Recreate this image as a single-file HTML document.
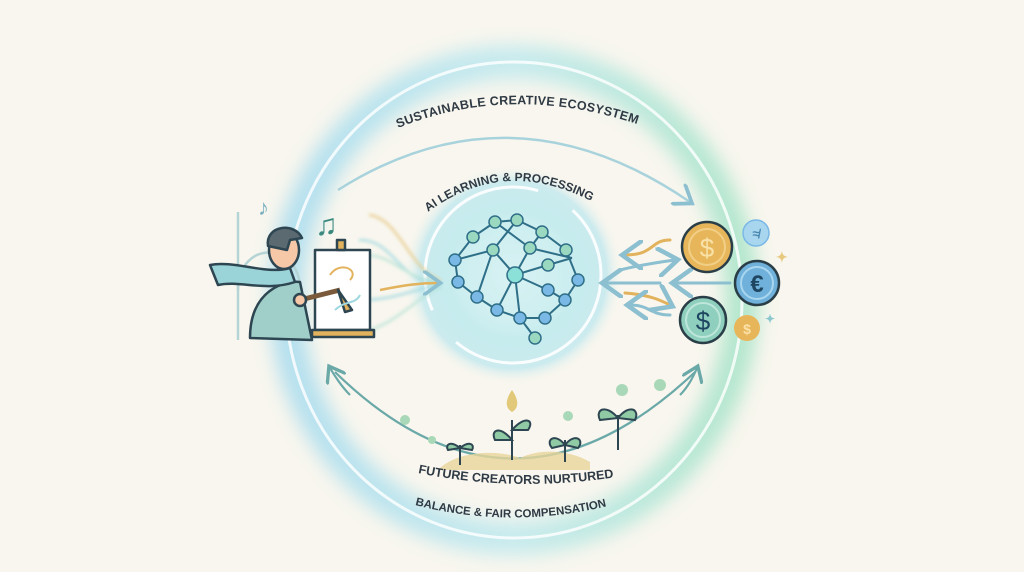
<!DOCTYPE html>
<html><head><meta charset="utf-8"><style>
html,body{margin:0;padding:0;background:#f8f6ee;}
svg{display:block}
text{font-family:"Liberation Sans",sans-serif;font-weight:bold;fill:#2f3a44;}
</style></head><body>
<svg width="1024" height="572" viewBox="0 0 1024 572">
<defs>
<radialGradient id="glow" cx="50%" cy="50%" r="50%">
<stop offset="0" stop-color="#e8f6f6"/><stop offset="0.6" stop-color="#c6ecee"/><stop offset="0.85" stop-color="#b9e6ef" stop-opacity="0.7"/><stop offset="1" stop-color="#f8f6ee" stop-opacity="0"/>
</radialGradient>
<linearGradient id="ring" x1="0" y1="0" x2="1" y2="0">
<stop offset="0" stop-color="#a8dcef"/><stop offset="0.5" stop-color="#bfe9ee"/><stop offset="1" stop-color="#a8e4c8"/>
</linearGradient>
<filter id="blur"><feGaussianBlur stdDeviation="9"/></filter>
<filter id="blur2"><feGaussianBlur stdDeviation="1.5"/></filter>
<marker id="ah" markerWidth="10" markerHeight="10" refX="6" refY="5" orient="auto"><path d="M0,0 L7,5 L0,10" fill="none" stroke="#8cbfd0" stroke-width="1.5"/></marker>
<marker id="ag" markerWidth="10" markerHeight="10" refX="6" refY="5" orient="auto"><path d="M0,0 L7,5 L0,10" fill="none" stroke="#6aa9a8" stroke-width="1.5"/></marker>
<path id="topArc" d="M398,128 Q512,82 640,125"/>
<path id="aiArc" d="M428,212 Q512,150 610,212"/>
<path id="futArc" d="M418,473 Q512,492 610,478"/>
<path id="balArc" d="M415,505 Q512,530 612,505"/>
</defs>
<ellipse cx="514" cy="300" rx="228" ry="238" fill="none" stroke="url(#ring)" stroke-width="34" filter="url(#blur)" opacity="0.85"/>
<ellipse cx="514" cy="300" rx="228" ry="238" fill="none" stroke="#ffffff" stroke-width="3" opacity="0.8"/>
<path d="M338,190 Q512,80 690,202" fill="none" stroke="#a9d3dc" stroke-width="2.5" marker-end="url(#ah)"/>
<path d="M335,372 Q512,545 695,372" fill="none" stroke="#6aa9a8" stroke-width="2.2"/>
<path d="M350,395 Q340,385 330,368" fill="none" stroke="#6aa9a8" stroke-width="2.2" marker-end="url(#ag)"/>
<path d="M680,395 Q690,385 697,368" fill="none" stroke="#6aa9a8" stroke-width="2.2" marker-end="url(#ag)"/>
<circle cx="513" cy="275" r="110" fill="url(#glow)"/>
<circle cx="513" cy="275" r="88" fill="none" stroke="#fff" stroke-width="3" stroke-dasharray="200 40" opacity="0.9"/>
<g stroke="#2f6f88" stroke-width="2" fill="none">
<path d="M455,260 L473,237 L495,222 L517,220 L542,232 L566,250 L578,280 L565,300 L545,318 L520,318 L497,310 L477,297 L458,282 Z" fill="#cdeef0" fill-opacity="0.6"/>
<path d="M455,260 L493,250 L515,275 L548,265 L572,258 M493,250 L517,220 M530,248 L515,275 L520,318 M477,297 L493,250 M497,310 L515,275 L548,290 L565,300 M542,232 L530,248 L572,258 M520,318 L535,338 M495,222 L530,248"/>
</g>
<g stroke="#2f6f88" stroke-width="1.5">
<circle cx="455" cy="260" r="6" fill="#7ab8e6"/><circle cx="473" cy="237" r="6" fill="#9ad9c0"/><circle cx="495" cy="222" r="6" fill="#9ad9c0"/>
<circle cx="517" cy="220" r="6" fill="#9ad9c0"/><circle cx="542" cy="232" r="6" fill="#9ad9c0"/><circle cx="566" cy="250" r="6" fill="#9ad9c0"/>
<circle cx="578" cy="280" r="6" fill="#7ab8e6"/><circle cx="565" cy="300" r="6" fill="#7ab8e6"/><circle cx="545" cy="318" r="6" fill="#7ab8e6"/>
<circle cx="520" cy="318" r="6" fill="#7ab8e6"/><circle cx="497" cy="310" r="6" fill="#7ab8e6"/><circle cx="477" cy="297" r="6" fill="#7ab8e6"/>
<circle cx="458" cy="282" r="6" fill="#7ab8e6"/><circle cx="493" cy="250" r="6" fill="#9ad9c0"/><circle cx="530" cy="248" r="6" fill="#9ad9c0"/>
<circle cx="548" cy="265" r="6" fill="#9ad9c0"/><circle cx="535" cy="338" r="6" fill="#9ad9c0"/><circle cx="548" cy="290" r="6" fill="#7ab8e6"/>
<circle cx="515" cy="275" r="8" fill="#8be0d8"/>
</g>
<g fill="none" stroke-width="2.5" stroke-linecap="round" filter="url(#blur2)" opacity="0.8">
<path d="M370,215 C400,220 410,270 440,280" stroke="#e7c987"/>
<path d="M360,240 C395,240 400,285 440,283" stroke="#9fd8e0"/>
<path d="M365,255 C395,255 405,280 438,281" stroke="#b7e3d6"/>
<path d="M360,300 C395,300 410,290 440,285" stroke="#9fd8e0"/>
<path d="M370,330 C400,320 420,295 440,288" stroke="#b7e3d6"/>
</g>
<path d="M380,290 C405,285 420,283 438,283" stroke="#e2b25c" stroke-width="2.5" fill="none" marker-end="url(#ah)"/>
<g stroke="#2e4652" stroke-width="2.5" stroke-linejoin="round">
<path d="M238,290 C238,240 300,240 300,290" fill="none" stroke="#b5d4d6"/>
<path d="M238,212 L238,340" fill="none" stroke="#b5d4d6"/>
<path d="M250,338 C250,290 285,280 300,282 L312,340 Z" fill="#9fcfc8"/>
<path d="M210,265 C235,260 265,275 290,268 L295,282 C265,292 240,280 218,285 Z" fill="#9ad3d8"/>
<ellipse cx="284" cy="250" rx="15" ry="19" fill="#f6c8a8"/>
<path d="M268,246 C265,225 295,222 302,238 L290,240 L287,250 Z" fill="#5b6a70"/>
<rect x="315" y="250" width="55" height="80" fill="#fff"/>
<rect x="337" y="240" width="8" height="10" fill="#e2b25c"/>
<rect x="312" y="330" width="62" height="7" fill="#e2b25c"/>
<path d="M300,300 L340,290" stroke="#7a5a3a" stroke-width="5"/>
<circle cx="300" cy="300" r="6" fill="#f6c8a8"/>
<path d="M338,290 L352,310 L345,312 Z" fill="#e2b25c"/>
</g>
<path d="M330,275 C340,260 360,270 350,280" fill="none" stroke="#e2b25c" stroke-width="2"/>
<path d="M335,310 C345,300 355,305 360,295" fill="none" stroke="#9fd8e0" stroke-width="2"/>
<text x="258" y="215" style="font-size:22px;fill:#7ab0c0">♪</text>
<text x="315" y="235" style="font-size:30px;fill:#3a8a80">♫</text>
<g fill="none" stroke-width="3" stroke-linecap="round">
<path d="M670,240 C650,240 655,255 625,255" stroke="#e2b25c" marker-end="url(#ah)"/>
<path d="M620,270 C640,265 660,262 675,260" stroke="#8cbfd0" marker-end="url(#ah)"/>
<path d="M730,283 L675,283" stroke="#8cbfd0" marker-end="url(#ah)"/>
<path d="M660,283 L605,283" stroke="#8cbfd0" marker-end="url(#ah)"/>
<path d="M625,293 C650,295 660,300 670,305" stroke="#e2b25c" marker-end="url(#ah)"/>
<path d="M670,315 C650,315 650,305 630,305" stroke="#8cbfd0" marker-end="url(#ah)"/>
</g>
<g stroke="#2a3e48" stroke-width="2.5">
<circle cx="707" cy="247" r="25" fill="#e8b65a"/><circle cx="707" cy="247" r="18" fill="none" stroke="#f2cf86" stroke-width="2"/>
<circle cx="757" cy="283" r="22" fill="#6fb1db"/><circle cx="757" cy="283" r="16" fill="none" stroke="#a9d6ee" stroke-width="2"/>
<circle cx="703" cy="320" r="23" fill="#8fcfbd"/><circle cx="703" cy="320" r="17" fill="none" stroke="#bfe6da" stroke-width="2"/>
<circle cx="756" cy="233" r="13" fill="#a8d6ee" stroke="#7ab8e6" stroke-width="1.5"/>
<circle cx="747" cy="328" r="13" fill="#e8b65a" stroke="none"/>
</g>
<text x="707" y="257" text-anchor="middle" style="font-size:26px;fill:#f8e2a8;font-weight:normal">$</text>
<text x="757" y="292" text-anchor="middle" style="font-size:24px;fill:#1f4660">€</text>
<text x="703" y="330" text-anchor="middle" style="font-size:26px;fill:#1f4660;font-weight:normal">$</text>
<text x="747" y="334" text-anchor="middle" style="font-size:14px;fill:#fbe2a8">$</text>
<text x="756" y="238" text-anchor="middle" style="font-size:13px;fill:#4a88b0">≉</text>
<text x="776" y="262" style="font-size:14px;fill:#e8c980">✦</text>
<text x="765" y="323" style="font-size:12px;fill:#8cc7d0">✦</text>
<path d="M440,468 C460,450 500,450 520,458 C540,448 570,450 590,462 L590,470 L440,470 Z" fill="#e8d49a" opacity="0.8"/>
<g stroke="#2e4652" stroke-width="2" fill="#8fcaa5">
<path d="M460,465 L460,445"/><path d="M460,448 C450,440 445,445 448,450 Z M460,448 C470,440 475,445 472,450 Z"/>
<path d="M512,460 L512,420"/><path d="M512,440 C500,425 490,430 495,440 Z M512,430 C525,415 535,420 528,430 Z"/>
<path d="M565,462 L565,440"/><path d="M565,445 C555,432 545,440 552,448 Z M565,445 C575,432 585,440 578,448 Z"/>
<path d="M618,450 L618,415"/><path d="M618,418 C605,403 595,410 600,420 Z M618,418 C630,403 640,410 635,420 Z"/>
</g>
<g fill="#a9d8b8"><path d="M512,390 C505,400 505,408 512,412 C519,408 519,400 512,390Z" fill="#e2c97a"/><circle cx="405" cy="420" r="5"/><circle cx="432" cy="440" r="4"/><circle cx="568" cy="416" r="5"/><circle cx="622" cy="390" r="6"/><circle cx="660" cy="385" r="6"/></g>
<text style="font-size:12.5px;letter-spacing:0.3px"><textPath href="#topArc">SUSTAINABLE CREATIVE ECOSYSTEM</textPath></text>
<text style="font-size:12px"><textPath href="#aiArc">AI LEARNING &amp; PROCESSING</textPath></text>
<text style="font-size:12.5px"><textPath href="#futArc">FUTURE CREATORS NURTURED</textPath></text>
<text style="font-size:11.5px"><textPath href="#balArc">BALANCE &amp; FAIR COMPENSATION</textPath></text>
</svg>
</body></html>
